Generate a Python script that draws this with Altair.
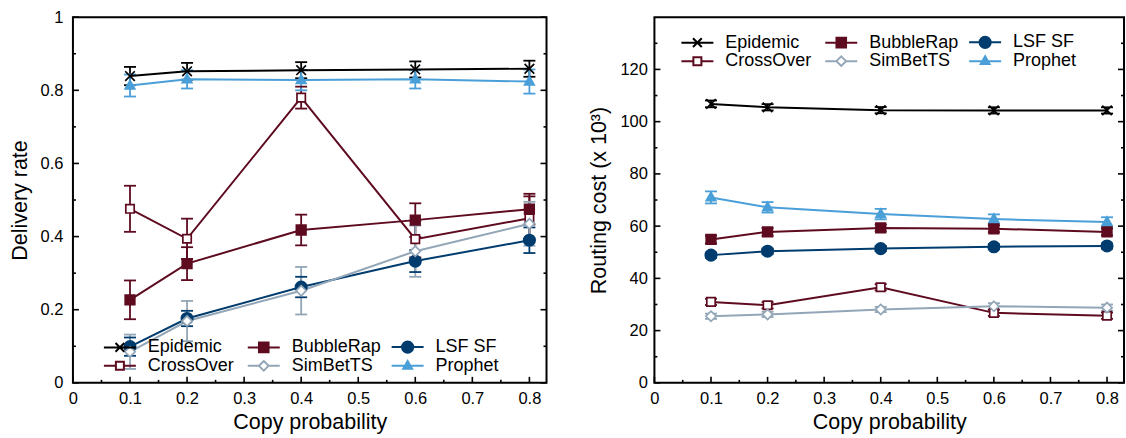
import altair as alt
import pandas as pd

FONT = "Liberation Sans"

series = ["Epidemic", "BubbleRap", "LSF SF", "CrossOver", "SimBetTS", "Prophet"]
colors = ["#000000", "#5e0b20", "#003c6e", "#5e0b20", "#93a6b7", "#4a9fd8"]
fills = ["transparent", "#5e0b20", "#003c6e", "#ffffff", "#ffffff", "#4a9fd8"]

copy_prob = [0.1, 0.2, 0.4, 0.6, 0.8]

# Delivery rate (left panel)
delivery = {
    "Epidemic": [0.839, 0.852, 0.855, 0.857, 0.859],
    "BubbleRap": [0.227, 0.326, 0.418, 0.445, 0.475],
    "LSF SF": [0.099, 0.176, 0.262, 0.333, 0.39],
    "CrossOver": [0.476, 0.394, 0.78, 0.393, 0.45],
    "SimBetTS": [0.085, 0.169, 0.252, 0.36, 0.435],
    "Prophet": [0.813, 0.83, 0.828, 0.83, 0.824],
}
delivery_err = {
    "Epidemic": [0.025, 0.023, 0.022, 0.022, 0.022],
    "BubbleRap": [0.053, 0.045, 0.042, 0.046, 0.042],
    "LSF SF": [0.025, 0.021, 0.028, 0.03, 0.035],
    "CrossOver": [0.063, 0.055, 0.03, 0.05, 0.06],
    "SimBetTS": [0.047, 0.055, 0.065, 0.07, 0.06],
    "Prophet": [0.03, 0.025, 0.028, 0.025, 0.033],
}

# Routing cost x 10^3 (right panel)
routing = {
    "Epidemic": [106.8, 105.5, 104.4, 104.3, 104.3],
    "BubbleRap": [54.9, 57.8, 59.3, 59.0, 57.8],
    "LSF SF": [48.9, 50.4, 51.4, 52.1, 52.4],
    "CrossOver": [31.0, 29.7, 36.6, 26.8, 25.7],
    "SimBetTS": [25.5, 26.2, 28.1, 29.3, 28.8],
    "Prophet": [71.0, 67.2, 64.6, 62.7, 61.6],
}
routing_err = {
    "Epidemic": [1.3, 1.2, 1.2, 1.2, 1.2],
    "BubbleRap": [1.5, 1.5, 1.3, 1.3, 1.3],
    "LSF SF": [1.0, 1.0, 1.0, 1.0, 1.0],
    "CrossOver": [1.2, 1.2, 1.2, 1.2, 1.2],
    "SimBetTS": [1.0, 1.0, 1.0, 1.2, 1.2],
    "Prophet": [2.3, 2.0, 2.0, 1.8, 1.8],
}

x_ticks = [0, 0.1, 0.2, 0.3, 0.4, 0.5, 0.6, 0.7, 0.8]
x_minor = [0.05, 0.15, 0.25, 0.35, 0.45, 0.55, 0.65, 0.75]
left_y_ticks = [0, 0.2, 0.4, 0.6, 0.8, 1]
left_y_minor = [0.1, 0.3, 0.5, 0.7, 0.9]
right_y_ticks = [0, 20, 40, 60, 80, 100, 120]
right_y_minor = [10, 30, 50, 70, 90, 110, 130]

# marker shapes (plot) and legend symbols (line stub + marker)
plot_shapes = [
    "M-0.8,-0.8L0.8,0.8M-0.8,0.8L0.8,-0.8",
    "M-0.8,-0.8H0.8V0.8H-0.8Z",
    "M0.95,0A0.95,0.95,0,1,1,-0.95,0A0.95,0.95,0,1,1,0.95,0Z",
    "M-0.7,-0.7H0.7V0.7H-0.7Z",
    "M0,-0.85L0.85,0L0,0.85L-0.85,0Z",
    "M0,-0.85L0.8,0.55L-0.8,0.55Z",
]
legend_shapes = [
    "M-2,0H2M-0.55,-0.55L0.55,0.55M-0.55,0.55L0.55,-0.55",
    "M-2,0H-0.6M0.6,0H2M-0.6,-0.6H0.6V0.6H-0.6Z",
    "M-2,0H-0.7M0.7,0H2M0.7,0A0.7,0.7,0,1,1,-0.7,0A0.7,0.7,0,1,1,0.7,0Z",
    "M-2,0H-0.5M0.5,0H2M-0.5,-0.5H0.5V0.5H-0.5Z",
    "M-2,0H-0.6M0.6,0H2M0,-0.6L0.6,0L0,0.6L-0.6,0Z",
    "M-2,0H2M0,-0.6L0.55,0.35L-0.55,0.35Z",
]


def make_df(values, errs):
    rows = []
    for s in series:
        for p, v, e in zip(copy_prob, values[s], errs[s]):
            rows.append({"series": s, "p": p, "v": v, "lo": v - e, "hi": v + e})
    return pd.DataFrame(rows)


def panel(values, errs, ydom, yvals, yminor, yfmt, ytitle, lab_pad, title_pad,
          legx, legy, W, H):
    df = make_df(values, errs)
    caps = pd.concat([
        df[["series", "p", "lo"]].rename(columns={"lo": "c"}),
        df[["series", "p", "hi"]].rename(columns={"hi": "c"}),
    ])
    xs = alt.Scale(domain=[0, 0.83], nice=False, zero=False)
    ys = alt.Scale(domain=ydom, nice=False, zero=False)
    xaxis = alt.Axis(values=x_ticks, format="~g", ticks=False, domain=False,
                     grid=False, labelFontSize=16.5, labelPadding=8,
                     labelColor="black", title="Copy probability",
                     titleFontSize=21.5, titleFontWeight="normal",
                     titlePadding=4, titleColor="black", labelFlush=False)
    yaxis = alt.Axis(values=yvals, format=yfmt, ticks=False, domain=False,
                     grid=False, labelFontSize=16.5, labelPadding=lab_pad,
                     labelColor="black", title=ytitle, titleFontSize=21.5,
                     titleFontWeight="normal", titlePadding=title_pad,
                     titleColor="black", labelFlush=False)
    X = alt.X("p:Q", scale=xs, axis=xaxis)
    sc = dict(domain=series, range=colors)
    stroke = alt.Stroke("series:N", scale=alt.Scale(**sc), legend=None)
    color = alt.Color("series:N", scale=alt.Scale(**sc), legend=None)

    bars = alt.Chart(df).mark_rule(strokeWidth=1.8).encode(
        x=X, y=alt.Y("lo:Q", scale=ys, axis=yaxis), y2="hi:Q", stroke=stroke)
    capm = alt.Chart(caps).mark_tick(orient="horizontal", size=12,
                                     thickness=1.8, opacity=1).encode(
        x=X, y=alt.Y("c:Q", scale=ys, axis=yaxis), color=color)
    lines = alt.Chart(df).mark_line(strokeWidth=2).encode(
        x=X, y=alt.Y("v:Q", scale=ys, axis=yaxis), stroke=stroke)
    pts = alt.Chart(df).mark_point(size=144, strokeWidth=1.7, opacity=1).encode(
        x=X, y=alt.Y("v:Q", scale=ys, axis=yaxis), stroke=stroke,
        fill=alt.Fill("series:N", scale=alt.Scale(domain=series, range=fills),
                      legend=None),
        shape=alt.Shape("series:N",
                        scale=alt.Scale(domain=series, range=plot_shapes),
                        legend=None))

    leg = alt.Legend(orient="none", legendX=legx, legendY=legy, columns=3,
                     direction="horizontal", title=None, labelFontSize=18,
                     labelFont=FONT, labelColor="black", labelOffset=19,
                     symbolSize=256, symbolStrokeWidth=2, rowPadding=0,
                     columnPadding=6, gridAlign="all", padding=0)
    legend_layer = alt.Chart(df).transform_filter("false").mark_point(
        size=256, strokeWidth=2, opacity=1).encode(
        stroke=alt.Stroke("series:N", scale=alt.Scale(**sc), legend=leg),
        fill=alt.Fill("series:N", scale=alt.Scale(domain=series, range=fills),
                      legend=leg),
        shape=alt.Shape("series:N",
                        scale=alt.Scale(domain=series, range=legend_shapes),
                        legend=leg))

    def tick_layer(vals, axis_kind, length):
        d = pd.DataFrame({"t": vals})
        base = alt.Chart(d).mark_rule(strokeWidth=1.6, color="black")
        if axis_kind == "left":
            return base.encode(y=alt.Y("t:Q", scale=ys, axis=yaxis),
                               x=alt.value(0), x2=alt.value(length))
        if axis_kind == "right":
            return base.encode(y=alt.Y("t:Q", scale=ys, axis=yaxis),
                               x=alt.value(W), x2=alt.value(W - length))
        return base.encode(x=alt.X("t:Q", scale=xs, axis=xaxis),
                           y=alt.value(H), y2=alt.value(H - length))

    ticks = [
        tick_layer(yvals, "left", 6), tick_layer(yminor, "left", 3),
        tick_layer(yvals, "right", 6), tick_layer(yminor, "right", 3),
        tick_layer(x_ticks, "bottom", 6), tick_layer(x_minor, "bottom", 3),
    ]

    return alt.layer(*ticks, bars, capm, lines, pts, legend_layer).resolve_scale(
        stroke="independent", fill="independent", shape="independent",
        color="independent").properties(width=W, height=H)


left = panel(delivery, delivery_err, [0, 1], left_y_ticks, left_y_minor, "~g",
             "Delivery rate", 10, 9, 38, 321, 474, 366)
right = panel(routing, routing_err, [0, 140], right_y_ticks, right_y_minor, "d",
              "Routing cost (x 10³)", 7, 9, 34, 16, 470, 366)

chart = alt.hconcat(left, right, spacing=39,
                    padding={"left": 8, "top": 8, "right": 0, "bottom": 0}
                    ).resolve_scale(
    x="independent", y="independent", stroke="independent",
    fill="independent", shape="independent", color="independent"
).resolve_legend(
    stroke="independent", fill="independent", shape="independent",
    color="independent"
).configure(font=FONT).configure_view(stroke="black", strokeWidth=2)

chart.save("out.html", embed_options={"renderer": "svg", "actions": False})
